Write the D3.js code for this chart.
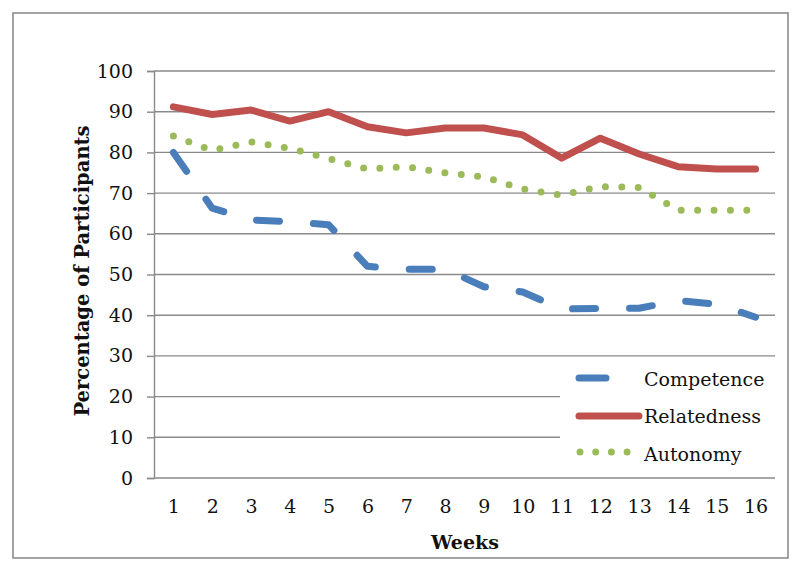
<!DOCTYPE html>
<html>
<head>
<meta charset="utf-8">
<script src="https://cdn.jsdelivr.net/npm/d3@7"></script>
<style>
  html, body { margin: 0; padding: 0; background: #fff; }
  svg { display: block; }
  text { font-family: "DejaVu Serif", serif; fill: #111; }
</style>
</head>
<body>
<svg id="chart" width="800" height="571"></svg>
<script>
const weeks = [1,2,3,4,5,6,7,8,9,10,11,12,13,14,15,16];
const competence  = [80, 66.3, 63.4, 63, 62.2, 52, 51.3, 51.3, 47, 45.7, 41.5, 41.7, 41.7, 43.6, 42.7, 39.5];
const relatedness = [91.2, 89.3, 90.4, 87.7, 90, 86.3, 84.8, 86, 86, 84.3, 78.6, 83.5, 79.6, 76.5, 75.9, 75.9];
const autonomy    = [84, 80.5, 82.6, 81, 78.5, 75.9, 76.5, 75, 74, 71, 69.5, 71.6, 71.4, 65.8, 65.8, 65.8];
const yTicks = [0,10,20,30,40,50,60,70,80,90,100];
const seriesNames = ["Competence", "Relatedness", "Autonomy"];

const svg = d3.select("#chart");

// outer border
svg.append("rect").attr("x", 13).attr("y", 13).attr("width", 775).attr("height", 545)
  .attr("fill", "#fff").attr("stroke", "#8c8c8c").attr("stroke-width", 1.6);

const pLeft = 154, pRight = 775, pTop = 71, pBottom = 478;
const x = d3.scalePoint().domain(weeks).range([pLeft, pRight]).padding(0.5);
const y = d3.scaleLinear().domain([0, 100]).range([pBottom, pTop]);

const legendLeft = 560;

// gridlines
const grid = svg.append("g");
yTicks.filter(t => t > 0).forEach(t => {
  const x2 = (t === 10 || t === 20) ? legendLeft : pRight;
  grid.append("line").attr("x1", pLeft).attr("x2", x2)
    .attr("y1", y(t)).attr("y2", y(t))
    .attr("stroke", "#8a8a8a").attr("stroke-width", 1.4);
});

// y axis
const yAxis = svg.append("g").attr("transform", `translate(${pLeft},0)`)
  .call(d3.axisLeft(y).tickValues(yTicks).tickSize(7).tickPadding(14));
yAxis.select(".domain").attr("stroke", "#8a8a8a").attr("stroke-width", 1.4);
yAxis.selectAll(".tick line").attr("stroke", "#8a8a8a").attr("stroke-width", 1.4);
yAxis.selectAll(".tick text").attr("font-family", "DejaVu Serif").attr("font-size", 19).attr("fill", "#111");

// x axis
const xAxis = svg.append("g").attr("transform", `translate(0,${pBottom})`)
  .call(d3.axisBottom(x).tickSize(0).tickPadding(22));
xAxis.select(".domain").attr("stroke", "#8a8a8a").attr("stroke-width", 1.6).attr("d", `M${pLeft},0H${pRight}`);
xAxis.selectAll(".tick text").attr("font-family", "DejaVu Serif").attr("font-size", 19).attr("fill", "#111");

// axis titles
svg.append("text").attr("x", 465).attr("y", 549).attr("text-anchor", "middle")
  .attr("font-weight", "bold").attr("font-size", 19).text("Weeks");
svg.append("text").attr("transform", "translate(89,271) rotate(-90)").attr("text-anchor", "middle")
  .attr("font-weight", "bold").attr("font-size", 19.5).text("Percentage of Participants");

const line = d3.line().x((d, i) => x(weeks[i])).y(d => y(d));

const styles = {
  Competence:  { color: "#4a7ebb", width: 7, dash: "23 34" },
  Relatedness: { color: "#c0504d", width: 7, dash: null },
  Autonomy:    { color: "#9bbb59", width: 7, dash: "0 16.4" }
};
const dataMap = { Competence: competence, Relatedness: relatedness, Autonomy: autonomy };

["Autonomy", "Competence", "Relatedness"].forEach(name => {
  const s = styles[name];
  const p = svg.append("path").datum(dataMap[name]).attr("d", line)
    .attr("fill", "none").attr("stroke", s.color).attr("stroke-width", s.width)
    .attr("stroke-linecap", "round").attr("stroke-linejoin", "round");
  if (s.dash) p.attr("stroke-dasharray", s.dash);
});

// legend
const legendRows = [
  { name: "Competence", ly: 378, x1: 579, x2: 606, ty: 386 },
  { name: "Relatedness", ly: 416, x1: 579, x2: 639, ty: 423 },
  { name: "Autonomy", ly: 452, x1: 580, x2: 630, ty: 461 }
];
legendRows.forEach(r => {
  const s = styles[r.name];
  const l = svg.append("line").attr("x1", r.x1).attr("x2", r.x2).attr("y1", r.ly).attr("y2", r.ly)
    .attr("stroke", s.color).attr("stroke-width", s.width).attr("stroke-linecap", "round");
  if (r.name === "Autonomy") l.attr("stroke-dasharray", "0 15.7");
  svg.append("text").attr("x", 644).attr("y", r.ty).attr("font-size", 19).text(r.name);
});
</script>
</body>
</html>
